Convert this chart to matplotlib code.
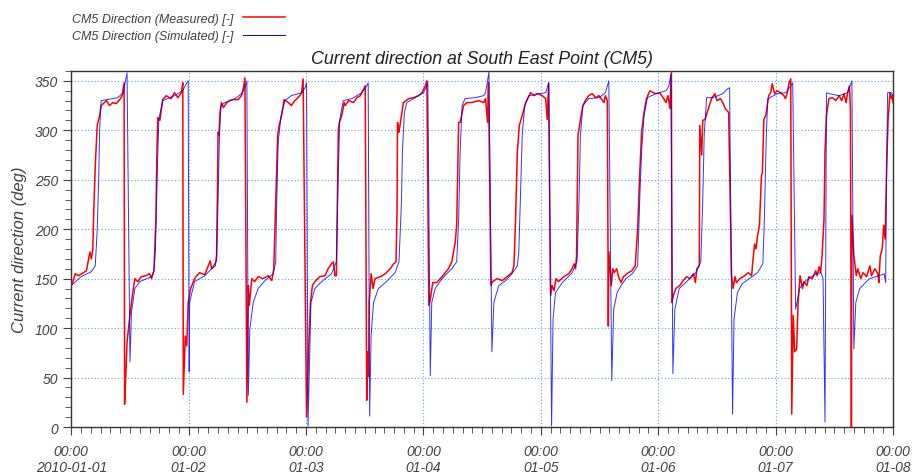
import matplotlib
matplotlib.use("Agg")
import matplotlib.pyplot as plt
import matplotlib.dates as mdates
import pandas as pd
from matplotlib.lines import Line2D

# hours since 2010-01-01 00:00 and current direction in degrees
sim_hours = [
    0.0, 2.0, 4.1, 4.9, 5.3, 5.6, 5.8, 6.1, 9.5, 10.6,
    11.0, 11.4, 12.0, 12.3, 13.0, 14.0, 16.4, 16.9, 17.2, 17.6,
    17.9, 18.7, 21.1, 22.8, 23.5, 23.9, 24.1, 24.2, 25.2, 27.3,
    28.7, 29.7, 30.0, 30.3, 30.6, 31.4, 33.5, 34.8, 35.5, 35.9,
    36.2, 36.5, 37.2, 38.2, 39.6, 41.3, 41.8, 42.0, 42.3, 42.9,
    43.7, 45.0, 47.1, 47.8, 48.1, 48.4, 49.0, 49.8, 51.2, 53.2,
    54.2, 54.6, 54.9, 55.6, 57.4, 59.4, 60.4, 60.7, 61.0, 61.3,
    61.8, 62.8, 64.2, 66.2, 67.0, 67.5, 67.7, 68.1, 68.6, 70.3,
    72.0, 72.5, 72.9, 73.4, 73.7, 74.4, 75.8, 77.8, 78.8, 79.2,
    79.5, 79.9, 80.5, 82.6, 84.3, 84.7, 85.4, 86.0, 86.4, 87.4,
    88.8, 90.1, 91.2, 91.5, 91.8, 92.2, 92.7, 93.6, 95.6, 97.0,
    97.6, 98.2, 98.5, 99.0, 100.4, 102.4, 103.4, 103.8, 104.1, 104.6,
    105.8, 107.9, 109.2, 109.9, 110.5, 110.9, 111.6, 112.4, 113.4, 114.7,
    115.8, 116.2, 116.6, 117.1, 117.8, 119.5, 121.6, 122.2, 122.6, 123.0,
    123.4, 124.3, 125.6, 127.7, 128.7, 129.1, 129.4, 129.9, 131.2, 133.2,
    134.2, 134.6, 135.2, 135.5, 136.2, 137.2, 138.6, 140.3, 141.4, 141.7,
    142.1, 142.4, 144.4, 146.1, 147.1, 147.5, 148.1, 148.9, 150.2, 152.3,
    153.3, 153.7, 154.1, 154.4, 155.0, 157.0, 158.7, 159.6, 160.0, 160.4,
    161.2, 163.2, 165.2, 166.2, 166.5, 166.7, 166.9, 167.6, 168.0,
]
sim_deg = [
    143, 152, 157, 163, 200, 250, 301, 330, 333, 338,
    348, 358, 66, 116, 140, 147, 152, 158, 180, 261,
    311, 330, 335, 340, 347, 350, 56, 126, 147, 153,
    160, 168, 227, 295, 325, 328, 332, 337, 343, 350,
    32, 99, 126, 140, 148, 155, 167, 227, 288, 315,
    330, 335, 338, 343, 348, 1, 126, 140, 147, 155,
    167, 261, 311, 330, 332, 338, 345, 348, 11, 92,
    126, 140, 146, 156, 167, 227, 278, 318, 328, 333,
    338, 343, 348, 52, 126, 140, 150, 160, 167, 210,
    278, 325, 332, 333, 335, 338, 359, 76, 126, 143,
    148, 155, 163, 177, 227, 295, 325, 335, 337, 338,
    348, 1, 109, 136, 146, 156, 167, 227, 295, 325,
    332, 333, 338, 350, 47, 119, 136, 143, 150, 155,
    163, 227, 278, 315, 333, 337, 340, 345, 357, 54,
    119, 140, 146, 156, 167, 227, 295, 333, 333, 337,
    342, 343, 13, 109, 136, 145, 150, 156, 165, 210,
    295, 332, 337, 338, 345, 348, 119, 140, 148, 155,
    156, 150, 5, 338, 337, 335, 338, 350, 79, 126,
    140, 150, 153, 155, 146, 261, 338, 338, 335,
]

obs_hours = [
    0.0, 0.4, 0.8, 1.5, 3.1, 3.8, 4.1, 4.4, 4.6, 4.9,
    5.3, 5.8, 6.1, 7.2, 7.8, 8.5, 9.2, 9.9, 10.4, 10.8,
    10.9, 11.2, 11.4, 11.9, 12.4, 13.0, 13.6, 14.3, 15.3, 16.0,
    16.4, 16.9, 17.3, 17.5, 17.7, 18.1, 18.7, 19.4, 20.4, 21.1,
    21.8, 22.5, 22.8, 22.9, 23.3, 23.6, 23.9, 24.4, 25.2, 26.2,
    27.3, 28.4, 28.7, 29.4, 29.7, 29.9, 30.0, 30.2, 30.4, 30.7,
    31.1, 31.8, 32.4, 33.1, 34.1, 34.8, 35.2, 35.5, 35.9, 36.2,
    36.4, 36.9, 37.5, 38.2, 39.2, 40.3, 41.0, 41.4, 41.8, 42.2,
    42.5, 43.0, 43.5, 44.4, 45.0, 45.7, 46.4, 47.1, 47.4, 48.1,
    48.5, 48.9, 49.3, 49.8, 50.8, 51.9, 52.5, 53.2, 53.6, 53.9,
    54.2, 54.6, 54.8, 55.3, 55.8, 56.0, 56.7, 57.7, 58.4, 59.1,
    59.8, 60.1, 60.4, 60.6, 60.8, 60.9, 61.3, 61.7, 62.1, 63.2,
    64.2, 65.2, 65.9, 66.4, 66.6, 66.7, 67.0, 67.5, 67.9, 69.0,
    70.0, 71.0, 71.7, 72.4, 72.7, 73.1, 73.4, 73.9, 74.7, 75.8,
    77.1, 77.8, 78.5, 78.8, 79.2, 79.5, 80.2, 80.9, 81.9, 83.3,
    84.3, 84.7, 85.1, 85.3, 85.8, 86.1, 87.1, 88.1, 89.1, 90.1,
    90.5, 90.8, 91.2, 91.6, 92.2, 92.9, 93.9, 94.6, 95.3, 96.3,
    97.0, 97.3, 97.6, 98.0, 98.3, 98.7, 99.1, 99.6, 100.7, 101.7,
    102.4, 102.8, 103.1, 103.3, 103.6, 103.8, 104.1, 104.6, 105.1, 105.8,
    106.5, 107.2, 107.9, 108.9, 109.2, 109.6, 109.8, 109.9, 110.4, 110.7,
    111.0, 111.5, 111.9, 112.4, 112.9, 113.9, 114.6, 115.3, 115.8, 116.2,
    116.6, 117.1, 117.6, 118.3, 119.0, 119.6, 120.3, 121.0, 121.6, 122.0,
    122.4, 122.7, 122.8, 123.1, 123.6, 124.4, 125.1, 125.8, 126.5, 127.2,
    127.6, 127.9, 128.4, 128.5, 128.9, 129.1, 129.6, 130.0, 130.9, 131.6,
    132.0, 132.7, 133.2, 133.7, 134.4, 135.0, 135.3, 135.7, 136.0, 136.7,
    137.4, 138.4, 139.1, 139.3, 139.7, 140.0, 140.3, 140.7, 141.1, 141.3,
    141.6, 142.0, 142.3, 142.6, 143.0, 143.3, 143.8, 144.3, 145.0, 145.7,
    146.0, 146.4, 146.7, 147.1, 147.3, 147.6, 147.9, 148.3, 148.6, 149.0,
    149.5, 149.8, 150.4, 150.8, 151.5, 152.2, 152.5, 152.9, 153.2, 153.5,
    153.9, 154.1, 154.4, 154.9, 155.6, 156.3, 157.0, 157.5, 158.0, 158.4,
    158.7, 159.1, 159.3, 159.5, 159.6, 159.8, 160.0, 160.5, 160.8, 161.4,
    161.9, 162.6, 163.3, 163.6, 164.3, 164.9, 165.1, 165.4, 165.8, 166.1,
    166.4, 166.7, 167.0, 167.4, 167.7, 167.9, 168.0,
]
obs_deg = [
    143, 148, 155, 153, 158, 177, 170, 180, 220, 264,
    305, 315, 325, 330, 325, 328, 327, 331, 335, 348,
    23, 59, 86, 109, 130, 150, 147, 152, 153, 155,
    150, 158, 210, 278, 313, 310, 331, 335, 332, 338,
    333, 338, 348, 33, 92, 82, 126, 140, 150, 156,
    154, 168, 160, 163, 173, 244, 298, 295, 318, 328,
    323, 328, 330, 331, 331, 335, 343, 353, 25, 143,
    123, 150, 147, 152, 150, 153, 148, 160, 227, 295,
    305, 315, 331, 328, 325, 330, 333, 338, 352, 10,
    76, 126, 143, 147, 152, 153, 160, 165, 167, 153,
    153, 301, 308, 315, 328, 325, 330, 328, 333, 335,
    342, 345, 27, 76, 51, 126, 155, 140, 150, 152,
    155, 160, 165, 167, 220, 308, 298, 315, 328, 332,
    333, 335, 338, 345, 350, 123, 129, 146, 146, 152,
    160, 167, 187, 204, 308, 308, 325, 328, 328, 330,
    328, 332, 308, 348, 143, 147, 150, 148, 152, 156,
    163, 204, 278, 305, 315, 328, 338, 335, 337, 335,
    332, 311, 348, 133, 143, 138, 150, 147, 152, 155,
    160, 165, 160, 173, 295, 301, 311, 325, 330, 335,
    337, 333, 335, 328, 335, 330, 102, 177, 143, 160,
    156, 160, 152, 146, 152, 156, 158, 163, 200, 254,
    298, 318, 332, 340, 338, 337, 338, 333, 328, 335,
    322, 359, 126, 133, 140, 143, 148, 152, 150, 155,
    146, 160, 163, 305, 275, 310, 311, 318, 332, 337,
    330, 332, 328, 322, 318, 153, 140, 152, 146, 150,
    152, 156, 153, 165, 185, 180, 193, 204, 254, 257,
    311, 315, 325, 335, 338, 347, 337, 340, 338, 335,
    332, 338, 347, 352, 13, 113, 76, 79, 126, 153,
    140, 147, 143, 152, 150, 158, 153, 162, 156, 173,
    210, 278, 315, 332, 333, 330, 335, 330, 337, 328,
    337, 345, 322, 0, 214, 193, 173, 153, 160, 150,
    156, 152, 163, 153, 160, 155, 146, 173, 180, 204,
    190, 261, 311, 338, 332, 335, 328,
]

series_labels = ["CM5 Direction (Measured) [-]", "CM5 Direction (Simulated) [-]"]
TEXT = "#404040"
GRID = "#55a5f0"

plt.rcParams["font.family"] = ["Liberation Sans", "DejaVu Sans"]
plt.rcParams["font.style"] = "italic"

t0 = pd.Timestamp("2010-01-01")
obs_t = t0 + pd.to_timedelta(obs_hours, unit="h")
sim_t = t0 + pd.to_timedelta(sim_hours, unit="h")

fig = plt.figure(figsize=(9.14, 4.77), dpi=100)
ax = fig.add_axes([0.078, 0.1027, 0.899, 0.7465])

ax.plot(obs_t, obs_deg, color="#ff0000", lw=1.1, zorder=3)
ax.plot(sim_t, sim_deg, color="#0000ff", lw=0.7, alpha=0.8, zorder=4)

ax.set_xlim(t0, t0 + pd.Timedelta(days=7))
ax.set_ylim(0, 360)

ax.xaxis.set_major_locator(mdates.DayLocator())
ax.xaxis.set_minor_locator(mdates.HourLocator(byhour=range(0, 24, 2)))


def day_label(x, pos):
    d = mdates.num2date(x)
    if pos == 0:
        return d.strftime("%H:%M\n%Y-%m-%d")
    return d.strftime("%H:%M\n%m-%d")


ax.xaxis.set_major_formatter(plt.FuncFormatter(day_label))
ax.set_yticks(range(0, 351, 50))
ax.set_yticks(range(0, 361, 10), minor=True)

ax.tick_params(which="major", length=6, width=0.8, colors=TEXT, labelsize=10)
ax.tick_params(which="minor", length=4, width=0.6, colors=TEXT)
ax.tick_params(axis="x", pad=6)
for lbl in ax.get_xticklabels() + ax.get_yticklabels():
    lbl.set_fontstyle("italic")

ax.grid(which="major", color=GRID, linestyle=(0, (1, 2)), linewidth=0.8)
for sp in ax.spines.values():
    sp.set_color("#333333")
    sp.set_linewidth(1.0)

ax.set_ylabel("Current direction (deg)", fontsize=12, color=TEXT, labelpad=6)
ax.set_title("Current direction at South East Point (CM5)", fontsize=12.8,
             color="#202020", pad=6)

handles = [Line2D([], [], color="#ff0000", lw=1.1),
           Line2D([], [], color="#0000ff", lw=0.7)]
fig.legend(handles, series_labels, loc="upper left", bbox_to_anchor=(0.066, 0.995),
           frameon=False, markerfirst=False, fontsize=9, handlelength=3.4,
           labelspacing=0.45, handletextpad=0.8, labelcolor=TEXT)

fig.savefig("out.png", dpi=100)
